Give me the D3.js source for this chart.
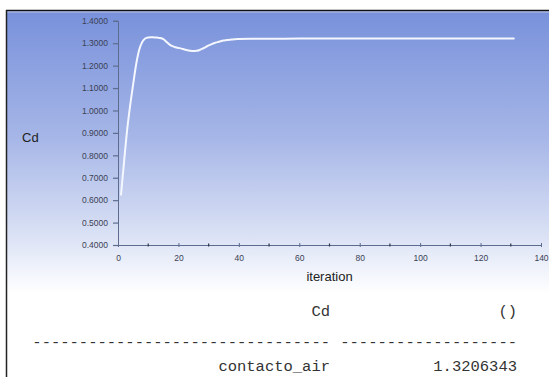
<!DOCTYPE html>
<html>
<head>
<meta charset="utf-8">
<script src="https://cdn.jsdelivr.net/npm/d3@7"></script>
<style>
  html, body { margin: 0; padding: 0; background: #ffffff; }
  svg { display: block; }
</style>
</head>
<body>
<svg id="chart" width="549" height="377"></svg>
<script>
// Drag coefficient history of the "contacto_air" report
const iterations = [1, 2, 3, 4, 5, 6, 7, 8, 9, 10, 11, 12, 13, 14, 15, 16, 17, 18, 19, 20,
  21, 22, 23, 24, 25, 26, 27, 28, 29, 30, 31, 32, 33, 34, 35, 36, 37, 38, 39, 40,
  45, 50, 55, 60, 70, 80, 90, 100, 110, 120, 131];
const cdValues = [0.625, 0.77, 0.91, 1.02, 1.115, 1.205, 1.27, 1.305, 1.321, 1.326, 1.327, 1.326, 1.325, 1.323, 1.318, 1.307, 1.295, 1.287, 1.282, 1.279,
  1.276, 1.272, 1.269, 1.266, 1.265, 1.266, 1.270, 1.276, 1.283, 1.290, 1.296, 1.301, 1.305, 1.309, 1.312, 1.314, 1.316, 1.317, 1.318, 1.319,
  1.3198, 1.3202, 1.3204, 1.3205, 1.3206, 1.3206, 1.3206, 1.3206, 1.3206, 1.3206, 1.3206];

const xTicks = [0, 20, 40, 60, 80, 100, 120, 140];
const xMinorTicks = [10, 30, 50, 70, 90, 110, 130];
const yTicks = [0.4, 0.5, 0.6, 0.7, 0.8, 0.9, 1.0, 1.1, 1.2, 1.3, 1.4];

// Report table below the plot
const reportHeader = ["Cd", "()"];
const reportRows = [["contacto_air", "1.3206343"]];

const svg = d3.select("#chart");

// Plot backdrop: blue fading to white
const defs = svg.append("defs");
const grad = defs.append("linearGradient")
  .attr("id", "bg").attr("x1", 0).attr("y1", 0).attr("x2", 0).attr("y2", 1);
grad.append("stop").attr("offset", "0%").attr("stop-color", "#7891db");
grad.append("stop").attr("offset", "45%").attr("stop-color", "#a6b6e7");
grad.append("stop").attr("offset", "80%").attr("stop-color", "#dbe2f5");
grad.append("stop").attr("offset", "100%").attr("stop-color", "#ffffff");

svg.append("rect").attr("x", 7).attr("y", 11).attr("width", 542).attr("height", 282)
  .attr("fill", "url(#bg)");

// Window frame
svg.append("line").attr("x1", 6).attr("x2", 549).attr("y1", 10.5).attr("y2", 10.5)
  .attr("stroke", "#111").attr("stroke-width", 1.5);
svg.append("line").attr("x1", 6).attr("x2", 549).attr("y1", 12).attr("y2", 12)
  .attr("stroke", "#b9c3de").attr("stroke-width", 1);
svg.append("line").attr("x1", 6.5).attr("x2", 6.5).attr("y1", 10).attr("y2", 377)
  .attr("stroke", "#222").attr("stroke-width", 1.5);

const x = d3.scaleLinear().domain([0, 140]).range([118, 541]);
const y = d3.scaleLinear().domain([0.4, 1.4]).range([245, 20.8]);

const axisColor = "#5d6c8e";
const labelColor = "#3b4155";

// Y axis
const yAxis = svg.append("g").attr("transform", `translate(${x(0)},0)`)
  .call(d3.axisLeft(y).tickValues(yTicks).tickFormat(d3.format(".4f")).tickSize(5).tickPadding(5));
yAxis.select(".domain").attr("stroke", axisColor).attr("stroke-width", 1);
yAxis.selectAll(".tick line").attr("stroke", axisColor).attr("stroke-width", 1.2);
yAxis.selectAll(".tick text").attr("fill", labelColor)
  .style("font-family", "'Liberation Sans', Arial, sans-serif").style("font-size", "8.5px");

// X axis
const xAxis = svg.append("g").attr("transform", `translate(0,${y(0.4)})`)
  .call(d3.axisBottom(x).tickValues(xTicks).tickFormat(d3.format("d")).tickSize(2).tickPadding(8));
xAxis.select(".domain").attr("stroke", axisColor).attr("stroke-width", 1);
xAxis.selectAll(".tick line").attr("stroke", axisColor).attr("y1", -2);
xAxis.selectAll(".tick text").attr("fill", labelColor)
  .style("font-family", "'Liberation Sans', Arial, sans-serif").style("font-size", "8.5px");

svg.append("g").selectAll("line").data(xMinorTicks).join("line")
  .attr("x1", d => x(d)).attr("x2", d => x(d))
  .attr("y1", y(0.4) - 1.5).attr("y2", y(0.4) + 1.5)
  .attr("stroke", "#2d3550").attr("stroke-width", 1.2);

// Axis titles
svg.append("text").attr("x", 22).attr("y", 142).text("Cd")
  .attr("fill", "#222").style("font-family", "'Liberation Sans', Arial, sans-serif").style("font-size", "13px");
svg.append("text").attr("x", (x(0) + x(140)) / 2).attr("y", 281).attr("text-anchor", "middle")
  .text("iteration").attr("fill", "#222")
  .style("font-family", "'Liberation Sans', Arial, sans-serif").style("font-size", "13px");

// Cd history curve
const pts = iterations.map((it, i) => [it, cdValues[i]]);
svg.append("path").datum(pts)
  .attr("fill", "none").attr("stroke", "#f5f7ff").attr("stroke-width", 2)
  .attr("stroke-linecap", "round")
  .attr("d", d3.line().x(d => x(d[0])).y(d => y(d[1])).curve(d3.curveMonotoneX));

// Report table
const mono = "'Liberation Mono', 'Courier New', monospace";
const col1 = 330, col2 = 517;
const table = svg.append("g").attr("fill", "#333")
  .style("font-family", mono).style("font-size", "15.5px");
table.append("text").attr("x", col1).attr("y", 316).attr("text-anchor", "end").text(reportHeader[0]);
table.append("text").attr("x", col2).attr("y", 316).attr("text-anchor", "end").text(reportHeader[1]);
table.append("text").attr("x", col1).attr("y", 347).attr("text-anchor", "end").text("-".repeat(32));
table.append("text").attr("x", col2).attr("y", 347).attr("text-anchor", "end").text("-".repeat(19));
reportRows.forEach((r, i) => {
  table.append("text").attr("x", col1).attr("y", 371 + i * 20).attr("text-anchor", "end").text(r[0]);
  table.append("text").attr("x", col2).attr("y", 371 + i * 20).attr("text-anchor", "end").text(r[1]);
});
</script>
</body>
</html>
